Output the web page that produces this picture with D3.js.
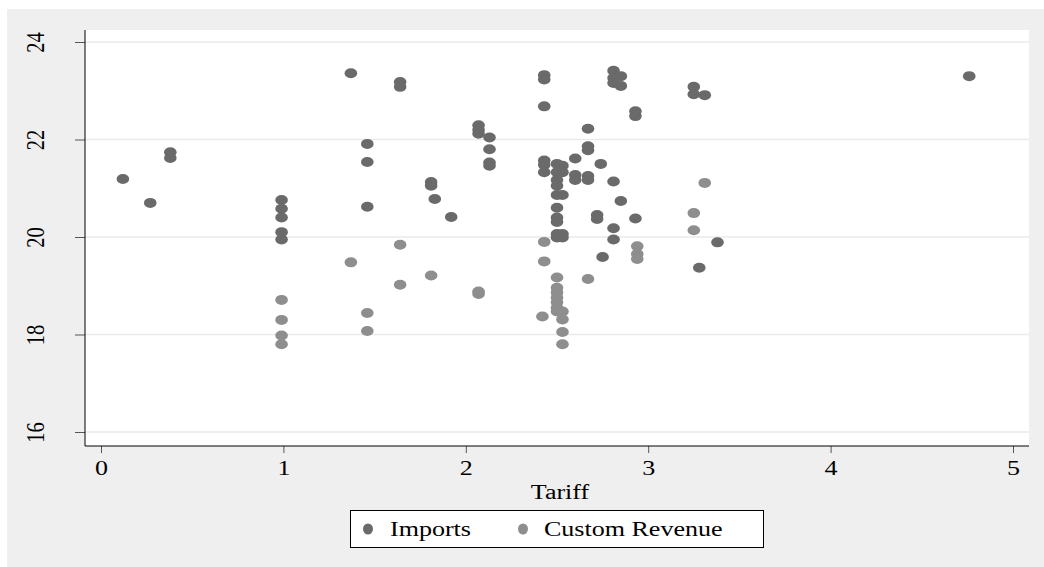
<!DOCTYPE html>
<html>
<head>
<meta charset="utf-8">
<script src="https://cdn.jsdelivr.net/npm/d3@7"></script>
<style>
  html, body { margin: 0; padding: 0; background: #ffffff; }
  svg { display: block; }
  text { font-family: "Liberation Serif", "Times New Roman", serif; fill: #000; }
</style>
</head>
<body>
<script>
// ---- Data ----
const seriesNames = ["Imports", "Custom Revenue"];
const xTicks = [0, 1, 2, 3, 4, 5];
const yTicks = [16, 18, 20, 22, 24];
const xLabel = "Tariff";

const importsTariff = [
  0.12, 0.27, 0.38, 0.38,
  0.99, 0.99, 0.99, 0.99, 0.99,
  1.37, 1.46, 1.46, 1.46, 1.64, 1.64,
  1.81, 1.81, 1.83, 1.92,
  2.07, 2.07, 2.07, 2.13, 2.13, 2.13, 2.13,
  2.43, 2.43, 2.43, 2.43, 2.43, 2.43,
  2.50, 2.50, 2.50, 2.50, 2.50, 2.50, 2.50, 2.50, 2.50, 2.50,
  2.53, 2.53, 2.53, 2.53, 2.53,
  2.60, 2.60, 2.60,
  2.67, 2.67, 2.67, 2.67, 2.67,
  2.74, 2.72, 2.72, 2.75,
  2.81, 2.81, 2.81, 2.81, 2.81, 2.81,
  2.85, 2.85, 2.85,
  2.93, 2.93, 2.93,
  3.25, 3.25, 3.31, 3.38, 3.28, 4.76
];
const importsValue = [
  21.19, 20.70, 21.74, 21.62,
  20.76, 20.58, 20.40, 20.10, 19.95,
  23.36, 21.91, 21.54, 20.62, 23.18, 23.08,
  21.13, 21.05, 20.78, 20.41,
  22.29, 22.20, 22.12, 22.04, 21.80, 21.53, 21.46,
  23.32, 23.23, 22.68, 21.57, 21.48, 21.33,
  21.50, 21.33, 21.17, 21.05, 20.86, 20.60, 20.40, 20.31, 20.06, 19.99,
  21.46, 21.33, 20.86, 20.06, 19.99,
  21.61, 21.27, 21.17,
  22.22, 21.86, 21.78, 21.25, 21.17,
  21.50, 20.45, 20.37, 19.59,
  23.41, 23.26, 23.16, 21.14, 20.18, 19.95,
  23.30, 23.10, 20.74,
  22.58, 22.48, 20.38,
  23.08, 22.93, 22.91, 19.89, 19.37, 23.30
];

const revenueTariff = [
  0.99, 0.99, 0.99, 0.99,
  1.37, 1.46, 1.46, 1.64, 1.64, 1.81, 2.07, 2.07,
  2.43, 2.43, 2.42,
  2.50, 2.50, 2.50, 2.50, 2.50, 2.50, 2.50,
  2.53, 2.53, 2.53, 2.53,
  2.67, 2.94, 2.94, 2.94,
  3.31, 3.25, 3.25
];
const revenueValue = [
  18.71, 18.30, 17.98, 17.80,
  19.48, 18.44, 18.07, 19.84, 19.02, 19.21, 18.88, 18.83,
  19.90, 19.50, 18.37,
  19.17, 18.96, 18.86, 18.76, 18.66, 18.55, 18.47,
  18.47, 18.31, 18.05, 17.80,
  19.14, 19.81, 19.65, 19.55,
  21.11, 20.49, 20.14
];

const colors = ["#6a6a6a", "#8e8e8e"];

// ---- Layout ----
const W = 1044, H = 567;
const plot = { left: 85, right: 1029, top: 30, bottom: 446 };
const SX = 1.27;      // horizontal stretch of the original rendering
const FS = 20.5;      // font size

const svg = d3.select("body").append("svg").attr("width", W).attr("height", H);

// outer graph region
svg.append("rect").attr("x", 7).attr("y", 9).attr("width", W - 7).attr("height", H - 9)
  .attr("fill", "#efefef");
// plot region
svg.append("rect").attr("x", plot.left).attr("y", plot.top)
  .attr("width", plot.right - plot.left).attr("height", plot.bottom - plot.top)
  .attr("fill", "#ffffff");

const x = d3.scaleLinear().domain([0, 5]).range([101, 1013]);
const y = d3.scaleLinear().domain([16, 24]).range([432, 42]);

// gridlines
svg.append("g").selectAll("line").data(yTicks).join("line")
  .attr("x1", plot.left).attr("x2", plot.right)
  .attr("y1", d => y(d)).attr("y2", d => y(d))
  .attr("stroke", "#eaeaea").attr("stroke-width", 1.5);

// x axis
const xAxis = svg.append("g").attr("transform", `translate(0,${plot.bottom})`)
  .call(d3.axisBottom(x).tickValues(xTicks).tickFormat(d3.format("d")).tickSize(7).tickSizeOuter(0));
xAxis.select(".domain").remove();
xAxis.append("line").attr("x1", plot.left).attr("x2", plot.right).attr("y1", 0).attr("y2", 0)
  .attr("stroke", "#000").attr("stroke-width", 1);
xAxis.selectAll(".tick line").attr("stroke", "#555");
xAxis.selectAll(".tick text")
  .attr("font-size", FS).attr("font-family", "Liberation Serif, serif").attr("fill", "#000")
  .attr("y", 0).attr("dy", 0)
  .attr("transform", `translate(0,29) scale(${SX},1)`);

// y axis
const yAxis = svg.append("g").attr("transform", `translate(${plot.left},0)`)
  .call(d3.axisLeft(y).tickValues(yTicks).tickFormat(d3.format("d")).tickSize(10).tickSizeOuter(0));
yAxis.select(".domain").remove();
yAxis.append("line").attr("x1", 0).attr("x2", 0).attr("y1", plot.top).attr("y2", plot.bottom)
  .attr("stroke", "#000").attr("stroke-width", 1);
yAxis.selectAll(".tick line").attr("stroke", "#555");
yAxis.selectAll(".tick text")
  .attr("font-size", FS).attr("font-family", "Liberation Serif, serif").attr("fill", "#000")
  .attr("x", 0).attr("y", 0).attr("dy", 0)
  .attr("text-anchor", "middle")
  .attr("dominant-baseline", "central")
  .attr("transform", `translate(-50,0) scale(${SX},1) rotate(-90)`);

// x label
svg.append("text")
  .attr("transform", `translate(${(plot.left + plot.right) / 2 + 3},499) scale(${SX},1)`)
  .attr("text-anchor", "middle").attr("font-size", FS).text(xLabel);

// points
const rx = 6.3, ry = 5;
const importsPts = importsTariff.map((t, i) => ({ t, v: importsValue[i] }));
const revenuePts = revenueTariff.map((t, i) => ({ t, v: revenueValue[i] }));

svg.append("g").selectAll("ellipse").data(importsPts).join("ellipse")
  .attr("cx", d => x(d.t)).attr("cy", d => y(d.v))
  .attr("rx", rx).attr("ry", ry).attr("fill", colors[0]);
svg.append("g").selectAll("ellipse").data(revenuePts).join("ellipse")
  .attr("cx", d => x(d.t)).attr("cy", d => y(d.v))
  .attr("rx", rx).attr("ry", ry).attr("fill", colors[1]);

// legend
const lg = svg.append("g");
lg.append("rect").attr("x", 350.5).attr("y", 510.5).attr("width", 413).attr("height", 37)
  .attr("fill", "#fff").attr("stroke", "#000").attr("stroke-width", 1);
const legendItems = [
  { name: seriesNames[0], color: colors[0], mx: 368, tx: 390 },
  { name: seriesNames[1], color: colors[1], mx: 523, tx: 544 }
];
legendItems.forEach(it => {
  lg.append("ellipse").attr("cx", it.mx).attr("cy", 529).attr("rx", 5).attr("ry", 5.5).attr("fill", it.color);
  lg.append("text").attr("transform", `translate(${it.tx},536) scale(${SX},1)`)
    .attr("font-size", FS).text(it.name);
});
</script>
</body>
</html>
